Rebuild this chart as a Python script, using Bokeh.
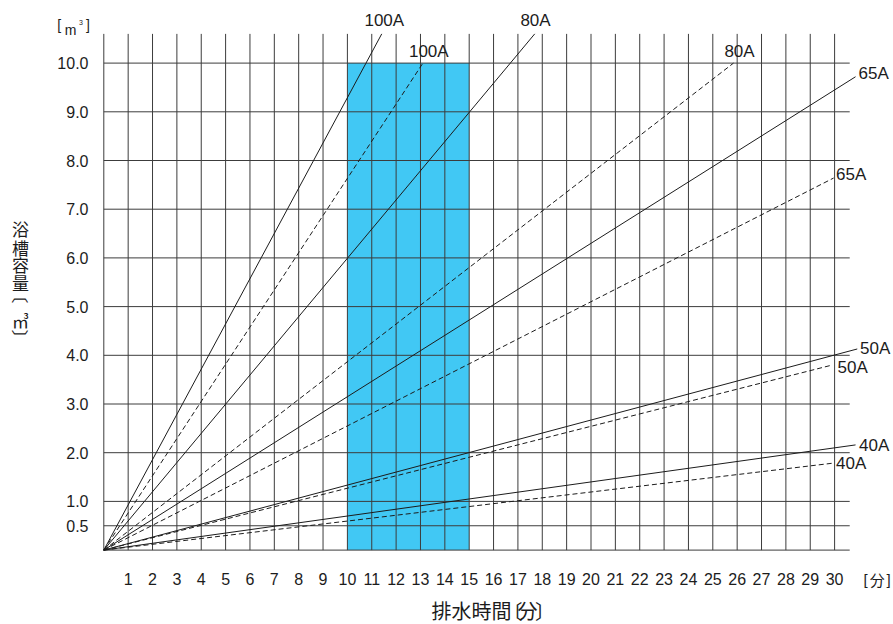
import math
from bokeh.plotting import figure
from bokeh.embed import file_html
from bokeh.resources import INLINE
from bokeh.core.properties import value

# ---------------- data ----------------
minutes = list(range(1, 31))                       # x tick values (min)
minute_labels = [str(m) for m in minutes]
volume_ticks = [0.5, 1.0, 2.0, 3.0, 4.0, 5.0, 6.0, 7.0, 8.0, 9.0, 10.0]
volume_labels = ["0.5", "1.0", "2.0", "3.0", "4.0", "5.0", "6.0", "7.0", "8.0", "9.0", "10.0"]
grid_minutes = list(range(0, 31))
grid_volumes = [0.0, 0.5, 1.0, 2.0, 3.0, 4.0, 5.0, 6.0, 7.0, 8.0, 9.0, 10.0]

highlight_time = [10, 15]
highlight_volume = [0.0, 10.0]

pipe_sizes = ["100A", "80A", "65A", "50A", "40A"]
# solid lines: end point (minutes, m3); every line starts at the origin
solid_end_time = [11.41, 17.69, 30.86, 30.93, 30.86]
solid_end_volume = [10.6, 10.6, 9.72, 4.13, 2.16]
# dashed lines
dashed_end_time = [13.1, 25.85, 29.96, 29.9, 29.93]
dashed_end_volume = [10.0, 10.0, 7.64, 3.80, 1.785]

# ---------------- layout ----------------
W, H = 893, 624
X0PX, XSCALE = 103.3, 24.36     # pixel of x=0, pixels per minute
Y0PX, YSCALE = 549.6, 48.7      # pixel of y=0, pixels per m3


def dx(px):
    return (px - X0PX) / XSCALE


def dy(py):
    return (Y0PX - py) / YSCALE


GRID_TOP = 10.6
GRID_RIGHT = 30.62
INK = "#1c1c1c"
GRID = "#3c3c3c"
NUM_FONT = "Liberation Sans"
CJK_FONT = "Noto Sans CJK JP"

p = figure(width=W, height=H,
           x_range=(dx(0), dx(W)), y_range=(dy(H), dy(0)),
           output_backend="svg", toolbar_location=None,
           x_axis_location=None, y_axis_location=None,
           min_border=0, min_border_left=0, min_border_right=0,
           min_border_top=0, min_border_bottom=0)
p.outline_line_color = None
p.xgrid.visible = False
p.ygrid.visible = False
p.background_fill_color = "white"
p.border_fill_color = "white"

# highlight block
p.quad(left=[highlight_time[0]], right=[highlight_time[1]],
       bottom=[highlight_volume[0]], top=[highlight_volume[1]],
       fill_color="#41c8f4", line_color=None)

# grid
p.segment(x0=grid_minutes, y0=[0] * len(grid_minutes),
          x1=grid_minutes, y1=[GRID_TOP] * len(grid_minutes),
          line_color=GRID, line_width=1)
p.segment(x0=[0] * len(grid_volumes), y0=grid_volumes,
          x1=[GRID_RIGHT] * len(grid_volumes), y1=grid_volumes,
          line_color=GRID, line_width=1)

# pipe lines
n = len(pipe_sizes)
p.segment(x0=[0] * n, y0=[0] * n, x1=solid_end_time, y1=solid_end_volume,
          line_color=INK, line_width=1)
p.segment(x0=[0] * n, y0=[0] * n, x1=dashed_end_time, y1=dashed_end_volume,
          line_color=INK, line_width=1, line_dash="5 3")


def txt(xs, ys, texts, size, font=NUM_FONT, align="center", baseline="middle", angle=0.0):
    p.text(x=xs, y=ys, text=texts, text_font=value(font), text_font_size=value(size),
           text_align=align, text_baseline=baseline, text_color=INK, angle=angle)


# line labels (pixel positions of the label anchors)
solid_label_px = [(383.8, 19.5, "center"), (535.0, 19.5, "center"),
                  (858.0, 73.0, "left"), (859.5, 347.8, "left"), (858.5, 444.5, "left")]
dashed_label_px = [(428.3, 51.2, "center"), (739.0, 51.2, "center"),
                   (835.5, 174.2, "left"), (837.0, 366.8, "left"), (835.5, 462.5, "left")]
for name, (lx, ly, al) in zip(pipe_sizes, solid_label_px):
    txt([dx(lx)], [dy(ly)], [name], "17px", align=al)
for name, (lx, ly, al) in zip(pipe_sizes, dashed_label_px):
    txt([dx(lx)], [dy(ly)], [name], "17px", align=al)

# tick labels
txt(minutes, [dy(578.0)] * len(minutes), minute_labels, "16px")
txt([dx(88.0)] * len(volume_ticks), volume_ticks, volume_labels, "16px", align="right")

# unit  [m3]  at top-left
txt([dx(58.7)], [dy(24.0)], ["["], "14px")
txt([dx(70.0)], [dy(29.5)], ["m"], "14px", baseline="alphabetic")
txt([dx(80.5)], [dy(21.5)], ["3"], "7px")
txt([dx(87.5)], [dy(24.0)], ["]"], "14px")

# unit [分] after the minute labels
txt([dx(865.0)], [dy(579.0)], ["["], "15px")
txt([dx(876.7)], [dy(579.0)], ["分"], "15px", font=CJK_FONT)
txt([dx(888.0)], [dy(579.0)], ["]"], "15px")

# x title 排水時間〔分〕
XT_Y = 610.0
txt([dx(431.0)], [dy(XT_Y)], ["排水時間"], "20px", font=CJK_FONT, align="left")
txt([dx(502.0)], [dy(XT_Y)], ["〔"], "20px", font=CJK_FONT, align="left")
txt([dx(527.0)], [dy(XT_Y)], ["分"], "20px", font=CJK_FONT)
txt([dx(534.5)], [dy(XT_Y)], ["〕"], "20px", font=CJK_FONT, align="left")

# vertical y title 浴槽容量〔㎥〕
y_title_chars = ["浴", "槽", "容", "量"]
y_title_py = [228.3, 246.7, 264.0, 281.7]
txt([dx(20.0)] * len(y_title_chars), [dy(v) for v in y_title_py], y_title_chars,
    "17px", font=CJK_FONT)
txt([dx(20.0)], [dy(294.6)], ["〔"], "17px", font=CJK_FONT, angle=-math.pi / 2)
txt([dx(20.0)], [dy(319.5)], ["㎥"], "17px", font=CJK_FONT)
txt([dx(20.0)], [dy(337.4)], ["〕"], "17px", font=CJK_FONT, angle=-math.pi / 2)

open("out.html", "w").write(file_html(p, INLINE))
